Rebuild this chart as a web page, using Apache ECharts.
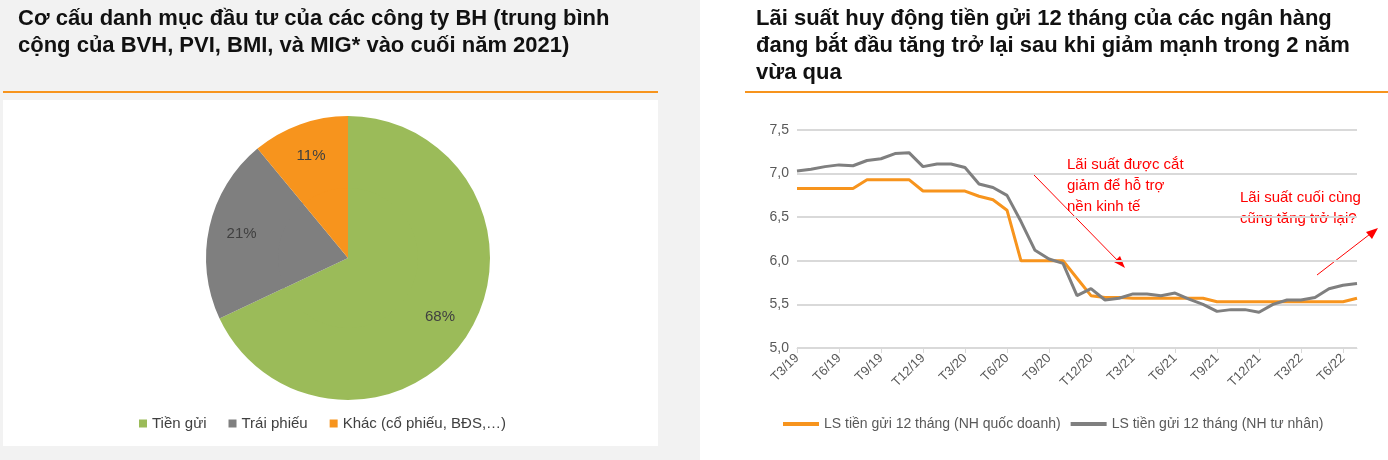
<!DOCTYPE html>
<html><head><meta charset="utf-8">
<script src="https://cdn.jsdelivr.net/npm/echarts@6/dist/echarts.min.js"></script>
<style>html,body{margin:0;padding:0;background:#fff}#c{width:1388px;height:460px}</style>
</head><body><div id="c"></div>
<script>
const pieNames = ['Tiền gửi', 'Trái phiếu', 'Khác (cổ phiếu, BĐS,…)'];
const pieValues = [68, 21, 11];
const pieColors = ['#9bbb59', '#7f7f7f', '#f7941d'];

const months = [];
for (let y = 19; y <= 22; y++) for (let m = 1; m <= 12; m++) {
  if ((y === 19 && m < 3) || (y === 22 && m > 7)) continue;
  months.push('T' + m + '/' + y);
}
const stateRates = [6.83,6.83,6.83,6.83,6.83,6.93,6.93,6.93,6.93,6.80,6.80,6.80,6.80,6.74,6.70,6.58,6.00,6.00,6.00,6.00,5.80,5.60,5.58,5.58,5.57,5.57,5.57,5.57,5.57,5.57,5.53,5.53,5.53,5.53,5.53,5.53,5.53,5.53,5.53,5.53,5.57];
const privateRates = [7.03,7.05,7.08,7.10,7.09,7.15,7.17,7.23,7.24,7.08,7.11,7.11,7.07,6.88,6.84,6.75,6.45,6.12,6.02,5.97,5.60,5.68,5.55,5.57,5.62,5.62,5.60,5.63,5.56,5.50,5.42,5.44,5.44,5.41,5.50,5.55,5.55,5.58,5.68,5.72,5.74];
const seriesNames = ['LS tiền gửi 12 tháng (NH quốc doanh)', 'LS tiền gửi 12 tháng (NH tư nhân)'];

const chart = echarts.init(document.getElementById('c'));
const font = 'Liberation Sans, Arial, sans-serif';
const pieData = pieNames.map((n,i)=>({name:n, value:pieValues[i], itemStyle:{color:pieColors[i]}}));
chart.setOption({
  animation: false,
  textStyle: {fontFamily: font},
  graphic: [
    {type:'rect', shape:{x:0,y:0,width:700,height:460}, style:{fill:'#f2f2f2'}, z:-10},
    {type:'rect', shape:{x:3,y:100,width:655,height:346}, style:{fill:'#fff'}, z:-9},
    {type:'text', left:18, top:5, style:{text:'Cơ cấu danh mục đầu tư của các công ty BH (trung bình\ncộng của BVH, PVI, BMI, và MIG* vào cuối năm 2021)', font:'bold 22px '+font, fill:'#111', lineHeight:27}},
    {type:'text', left:756, top:5, style:{text:'Lãi suất huy động tiền gửi 12 tháng của các ngân hàng\nđang bắt đầu tăng trở lại sau khi giảm mạnh trong 2 năm\nvừa qua', font:'bold 22px '+font, fill:'#111', lineHeight:27}},
    {type:'line', shape:{x1:3,y1:92,x2:658,y2:92}, style:{stroke:'#f7941d', lineWidth:2}},
    {type:'line', shape:{x1:745,y1:92,x2:1388,y2:92}, style:{stroke:'#f7941d', lineWidth:2}},
    {type:'text', left:1067, top:154, style:{text:'Lãi suất được cắt\ngiảm để hỗ trợ\nnền kinh tế', font:'15px '+font, fill:'#ff0000', lineHeight:21}},
    {type:'text', left:1240, top:187, style:{text:'Lãi suất cuối cùng\ncũng tăng trở lại?', font:'15px '+font, fill:'#ff0000', lineHeight:21}},
    {type:'line', shape:{x1:1034,y1:175,x2:1122,y2:265}, style:{stroke:'#ff0000', lineWidth:1}},
    {type:'polygon', shape:{points:[[1125,268],[1114,262],[1120,256]]}, style:{fill:'#ff0000'}},
    {type:'line', shape:{x1:1317,y1:275,x2:1374,y2:231}, style:{stroke:'#ff0000', lineWidth:1}},
    {type:'polygon', shape:{points:[[1378,228],[1366,232],[1372,239]]}, style:{fill:'#ff0000'}}
  ],
  legend: [
    {data: pieNames, left: 134, top: 411, itemWidth: 8, itemHeight: 8, icon:'rect', itemGap: 22,
     textStyle:{fontSize:15, color:'#404040', fontFamily:font}},
    {data: seriesNames, left: 778, top: 412, itemWidth: 36, itemHeight: 4, icon:'rect', itemGap: 10,
     textStyle:{fontSize:14, color:'#595959', fontFamily:font}}
  ],
  grid: {left: 797, right: 31, top: 130, bottom: 112},
  xAxis: {type:'category', data: months, boundaryGap:false,
    axisLine:{lineStyle:{color:'#d9d9d9'}}, axisTick:{show:true, interval:2, lineStyle:{color:'#d9d9d9'}},
    axisLabel:{interval:2, rotate:45, color:'#595959', fontSize:13, fontFamily:font}},
  yAxis: {type:'value', min:5, max:7.5, interval:0.5,
    axisLabel:{color:'#595959', fontSize:14, fontFamily:font, formatter: v => v.toFixed(1).replace('.', ',')},
    splitLine:{lineStyle:{color:'#d9d9d9', width:2}}},
  series: [
    {type:'pie', center:[348,258], radius:[0,72], startAngle:90, clockwise:true, data: pieData,
     label:{show:false}, labelLine:{show:false}, legendHoverLink:false},
    {type:'pie', center:[348,258], radius:[70,142], startAngle:90, clockwise:true, data: pieData,
     label:{position:'inside', formatter:'{c}%', color:'#404040', fontSize:15, fontFamily:font},
     labelLine:{show:false}},
    {type:'line', name: seriesNames[0], data: stateRates, symbol:'none', lineStyle:{color:'#f7941d', width:3}, itemStyle:{color:'#f7941d'}},
    {type:'line', name: seriesNames[1], data: privateRates, symbol:'none', lineStyle:{color:'#7f7f7f', width:3}, itemStyle:{color:'#7f7f7f'}}
  ]
});
</script></body></html>
